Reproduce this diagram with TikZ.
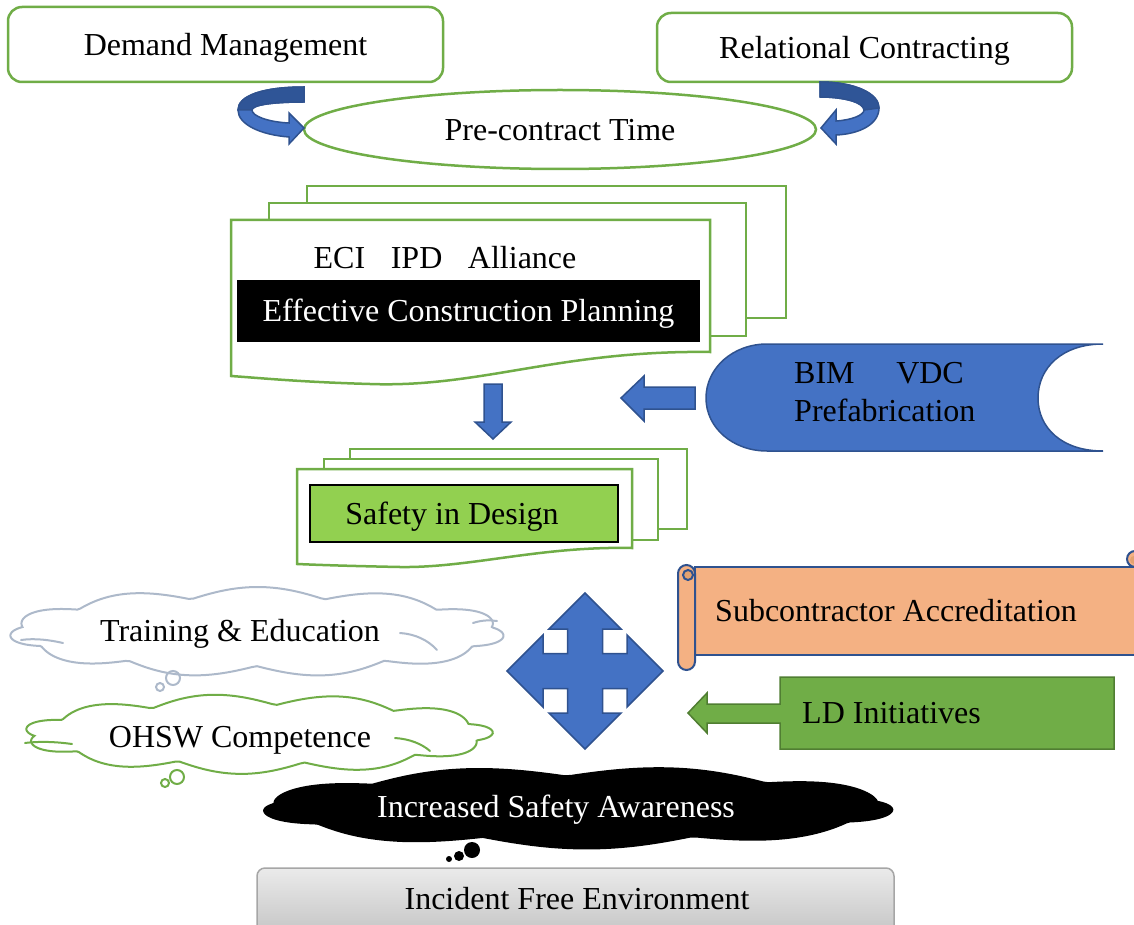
\documentclass[tikz,border=0pt]{standalone}
\usepackage{fontspec}
\setmainfont{Liberation Serif}
\usetikzlibrary{shapes.geometric,positioning}
\definecolor{sfgreen}{HTML}{70AD47}
\definecolor{sfblue}{HTML}{4472C4}
\definecolor{sfnavy}{HTML}{2F528F}
\definecolor{sfdark}{HTML}{2F5597}
\definecolor{sflime}{HTML}{92D050}
\definecolor{sfpeach}{HTML}{F4B183}
\definecolor{sfmoss}{HTML}{507E32}
\definecolor{sfgrey}{HTML}{ADB9CA}
% puffy outline round a centre: cx, cy, rx, ry, puffs/2, puff depth, phase
\newcommand{\puffline}[7]{plot[domain=0:360, samples=301, variable=\t]
  ({#1+(#3-#6+#6*abs(sin(#5*(\t+#7))))*cos(\t)}, {#2+(#4-#6+#6*abs(sin(#5*(\t+#7))))*sin(\t)}) -- cycle}

\begin{document}
\begin{tikzpicture}[x=1pt,y=-1pt,
  font=\fontsize{32}{38}\selectfont,
  txt/.style={text height=28.5pt, text depth=7pt, inner sep=0pt},
  greenline/.style={draw=sfgreen, line width=2.5pt},
  roundbox/.style={greenline, rounded corners=14pt, fill=white, txt},
  docpage/.style={greenline, fill=white},
  blockarrow/.style={fill=sfblue, draw=sfnavy, line width=1.5pt},
  scrollline/.style={draw=sfnavy, line width=2pt},
  puff/.style={line width=2pt, line cap=round}]
  \useasboundingbox (0,0) rectangle (1134,925);
  \clip (0,0) rectangle (1134,925);

  % top row and the pre-contract ellipse
  \node[roundbox, minimum width=435pt, minimum height=75pt] (demand) at (225.5,44.5) {Demand Management};
  \node[roundbox, minimum width=415pt, minimum height=69pt] (relational) at (864.5,47.5) {Relational Contracting};
  \node[ellipse, greenline, fill=white, minimum width=512pt, minimum height=79pt, txt] (precontract) at (560,129.5) {Pre-contract Time};

  % curved arrows into the ellipse
  \draw[blockarrow] (304,87) .. controls (262,87) and (238,96) .. (238,110)
    .. controls (238,125) and (262,135) .. (289,137) -- (289,144) -- (304,128) -- (289,113) -- (289,123)
    .. controls (268,122) and (252,116) .. (252,110) .. controls (252,105) and (272,102) .. (304,102) -- cycle;
  \draw[blockarrow, fill=sfdark] (304,87) .. controls (262,87) and (238,96) .. (238,110) -- (252,110)
    .. controls (252,105) and (272,102) .. (304,102) -- cycle;
  \draw[blockarrow] (820,82) .. controls (856,82) and (879,94) .. (879,108)
    .. controls (879,124) and (860,134) .. (836,135) -- (836,144) -- (821,128) -- (836,110) -- (836,121)
    .. controls (852,120) and (864,115) .. (864,110) .. controls (864,103) and (846,97) .. (820,97) -- cycle;
  \draw[blockarrow, fill=sfdark] (820,82) .. controls (856,82) and (879,94) .. (879,108) -- (864,110)
    .. controls (864,103) and (846,97) .. (820,97) -- cycle;

  % planning stack
  \draw[docpage] (307,186) rectangle (786,318);
  \draw[docpage] (269,203) rectangle (746,336);
  \draw[docpage] (231,220) -- (710,220) -- (710,352) .. controls (560,350) and (480,388) .. (370,384)
    .. controls (300,382) and (260,378) .. (231,376) -- cycle;
  \node[txt, anchor=center] (eci) at (445,258) {ECI\hspace{0.8em}IPD\hspace{0.8em}Alliance};
  \node[fill=black, text=white, minimum width=463pt, minimum height=62pt, txt] (ecp) at (468.5,311) {Effective Construction Planning};

  % arrows down and from the BIM shape
  \draw[blockarrow] (484,384) -- (502,384) -- (502,422) -- (511,422) -- (493,439) -- (475,422) -- (484,422) -- cycle;
  \draw[blockarrow] (695,387) -- (644,387) -- (644,376) -- (621,398) -- (644,421) -- (644,409) -- (695,409) -- cycle;

  % stored data shape
  \draw[blockarrow] (767,344) -- (1103,344) .. controls (1062,344) and (1038,368) .. (1038,398)
    .. controls (1038,428) and (1062,451) .. (1103,451) -- (767,451)
    .. controls (733,451) and (706,428) .. (706,398) .. controls (706,368) and (733,344) .. (767,344) -- cycle;
  \node[anchor=west, align=left, inner sep=0pt] (bim) at (794,392.5) {BIM\hspace{1.3em}VDC\\Prefabrication};

  % safety in design stack
  \draw[docpage] (350,449) rectangle (687,529);
  \draw[docpage] (324,459) rectangle (658,540);
  \draw[docpage] (297,469) -- (632,469) -- (632,548) .. controls (540,546) and (470,568) .. (400,567)
    .. controls (350,566) and (320,565) .. (297,564) -- cycle;
  \node[draw=black, line width=1.5pt, fill=sflime, minimum width=308pt, minimum height=57pt, inner sep=0pt] (sidbox) at (464,513.5) {};
  \node[txt] (sid) at ([xshift=-12pt]sidbox.center) {Safety in Design};

  % scroll
  \draw[scrollline, fill=sfpeach] (695,567) rectangle (1145,655);
  \draw[scrollline, fill=sfpeach, rounded corners=8pt] (1127,551) rectangle (1150,567);
  \fill[sfpeach!70!brown] (1134,560) circle (4pt);
  \draw[scrollline, fill=sfpeach, rounded corners=8.5pt] (678,565) rectangle (695,670);
  \draw[scrollline, fill=sfpeach!70!brown] (688,575) circle (5pt);
  \node[txt, anchor=west] (subcon) at (715,611) {Subcontractor Accreditation};

  % LD callout
  \draw[fill=sfgreen, draw=sfmoss, line width=1.5pt] (780,677) -- (1114,677) -- (1114,749) -- (780,749)
    -- (780,723) -- (707,723) -- (707,733) -- (688,713) -- (707,693) -- (707,704) -- (780,704) -- cycle;
  \node[txt, anchor=west] (ld) at (802,713) {LD Initiatives};

  % four-way arrow
  \begin{scope}[shift={(585,671)}]
    \draw[blockarrow] (0,-78) -- (36,-42) -- (17.5,-42) -- (17.5,-17.5) -- (42,-17.5) -- (42,-36) -- (78,0)
      -- (42,36) -- (42,17.5) -- (17.5,17.5) -- (17.5,42) -- (36,42) -- (0,78) -- (-36,42) -- (-17.5,42)
      -- (-17.5,17.5) -- (-42,17.5) -- (-42,36) -- (-78,0) -- (-42,-36) -- (-42,-17.5) -- (-17.5,-17.5)
      -- (-17.5,-42) -- (-36,-42) -- cycle;
  \end{scope}

  % clouds
  \draw[puff, draw=sfgrey, fill=white] \puffline{257}{632}{248}{45}{5.5}{11}{8};
  \draw[puff, sfgrey] (21,640) .. controls (35,638) and (50,640) .. (63,643)
    (400,633) .. controls (415,634) and (428,640) .. (437,650)
    (473,623) .. controls (482,620) and (490,620) .. (497,621);
  \node[txt] (train) at (240,631) {Training \& Education};
  \draw[puff, sfgrey] (173,678) circle (7pt) (160,687) circle (4pt);

  \draw[puff, draw=sfgreen, fill=white] \puffline{258}{734}{235}{40}{5.5}{11}{20};
  \draw[puff, sfgreen] (25,743) .. controls (40,741) and (58,742) .. (72,744)
    (395,738) .. controls (410,739) and (422,744) .. (430,751);
  \node[txt] (ohsw) at (240,737) {OHSW Competence};
  \draw[puff, sfgreen] (177,777) circle (7pt) (165,783) circle (4pt);

  \fill[black] \puffline{577.5}{807.5}{317}{42}{4.5}{10}{12};
  \node[txt, text=white] (aware) at (556,807) {Increased Safety Awareness};
  \fill[black] (472,850) circle (8pt) (459,856) circle (5pt) (449,859) circle (3pt);

  % bottom bar
  \node[rounded corners=8pt, draw=black!35, line width=1.5pt, top color=black!8, bottom color=black!25,
    minimum width=637pt, minimum height=76pt, inner sep=0pt] (incidentbox) at (575.5,906) {};
  \node[txt] (incident) at (577,899) {Incident Free Environment};
\end{tikzpicture}
\end{document}
